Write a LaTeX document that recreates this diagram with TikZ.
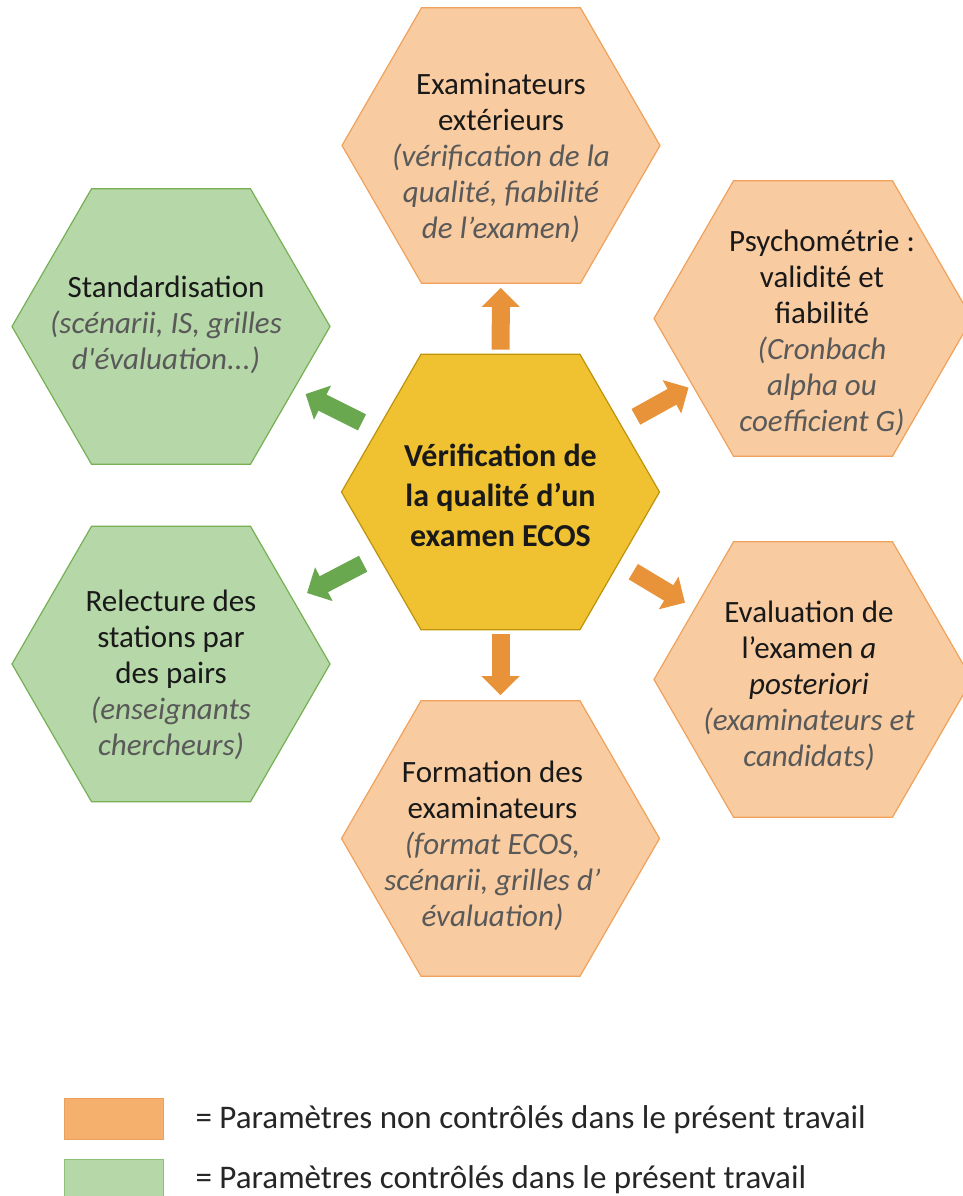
\documentclass[tikz,border=0pt]{standalone}
\usepackage{fontspec}
\setmainfont{Carlito}
\usetikzlibrary{shapes.geometric,arrows.meta}
\definecolor{orfill}{RGB}{248,203,160}
\definecolor{ordraw}{RGB}{240,162,92}
\definecolor{vefill}{RGB}{182,215,168}
\definecolor{vedraw}{RGB}{118,176,84}
\definecolor{cefill}{RGB}{240,194,50}
\definecolor{cedraw}{RGB}{190,146,10}
\definecolor{orarrow}{RGB}{232,146,58}
\definecolor{vearrow}{RGB}{106,168,79}
\definecolor{legor}{RGB}{244,176,108}
\definecolor{legordraw}{RGB}{234,160,92}
\definecolor{legvedraw}{RGB}{140,192,120}
\definecolor{gris}{RGB}{89,89,89}
\newcommand{\grisit}[1]{{\color{gris}\itshape #1}}
\newcommand{\hexagone}[5]{\node[hexa,#2] (#1) at (#3) {};
    \node[texte,#4] (#1-txt) at (#1) {#5};}
\tikzset{
  hexa/.style={regular polygon,regular polygon sides=6,minimum size=318pt,inner sep=0pt,line width=1.2pt},
  hexor/.style={fill=orfill,draw=ordraw},
  hexve/.style={fill=vefill,draw=vedraw},
  hexce/.style={fill=cefill,draw=cedraw},
  texte/.style={align=center,font=\fontsize{31}{36}\selectfont,text=black!90},
  fleche/.style={line width=18pt,-{Triangle[width=37pt,length=19pt]},shorten <=16.5pt,shorten >=11pt},
  legbox/.style={minimum width=99pt,minimum height=41pt,inner sep=0pt,line width=1pt},
  legtext/.style={anchor=base west,font=\fontsize{33}{38}\selectfont,text=black!85}
}

\begin{document}
\begin{tikzpicture}[x=1pt,y=-1pt]
\useasboundingbox (0,0) rectangle (963,1196);
\hexagone{exam}{hexor}{501,145.5}{shift={(0,12)}}{Examinateurs\\extérieurs\\\grisit{(vérification de la}\\\grisit{qualité, fiabilité}\\\grisit{de l’examen)}}
\hexagone{std}{hexve}{171,326.5}{shift={(-5,-2)}}{Standardisation\\\grisit{(scénarii, IS, grilles}\\\grisit{d\textquotesingle évaluation...)}}
\hexagone{psy}{hexor}{813,318.5}{shift={(9,14)}}{Psychométrie :\\validité et\\fiabilité\\\grisit{(Cronbach}\\\grisit{alpha ou}\\\grisit{coefficient G)}}
\hexagone{rel}{hexve}{171,664}{shift={(0,11)}}{Relecture des\\stations par\\des pairs\\\grisit{(enseignants}\\\grisit{chercheurs)}}
\hexagone{eva}{hexor}{813,679.5}{shift={(-4,6)}}{Evaluation de\\l’examen \textit{a}\\\textit{posteriori}\\\grisit{(examinateurs et}\\\grisit{candidats)}}
\hexagone{form}{hexor}{500.5,838.5}{shift={(-8,7)}}{Formation des\\examinateurs\\\grisit{(format ECOS,}\\\grisit{scénarii, grilles d’}\\\grisit{évaluation)}}
\hexagone{centre}{hexce}{500.5,492}{shift={(0,3)},font=\fontsize{32}{40}\selectfont\bfseries}{Vérification de\\la qualité d’un\\examen ECOS}
% fleches
\draw[fleche,orarrow,shorten <=4pt,shorten >=4pt] (centre) -- (exam);
\draw[fleche,orarrow,shorten <=4pt,shorten >=5pt] (centre) -- (form);
\draw[fleche,vearrow,shorten >=12pt] (centre) -- (std);
\draw[fleche,vearrow,shorten >=15pt] (centre) -- (rel);
\draw[fleche,orarrow,shorten >=4pt] (centre) -- (psy);
\draw[fleche,orarrow] (centre) -- (eva);
% legende
\node[legbox,fill=legor,draw=legordraw] (lego) at (113.5,1118.5) {};
\node[legtext] (lego-txt) at (192,1128) {= Paramètres non contrôlés dans le présent travail};
\node[legbox,fill=vefill,draw=legvedraw] (legv) at (113.5,1179.5) {};
\node[legtext] (legv-txt) at (192,1188) {= Paramètres contrôlés dans le présent travail};
\end{tikzpicture}
\end{document}
